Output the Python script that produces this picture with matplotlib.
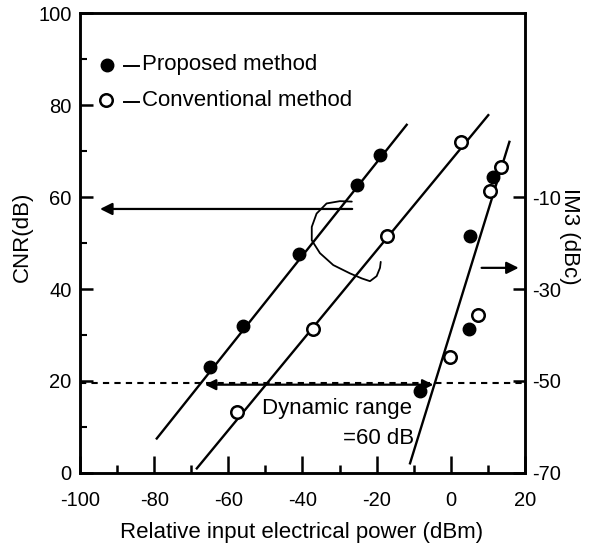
import matplotlib
matplotlib.use("Agg")
import matplotlib.pyplot as plt
from matplotlib.ticker import MultipleLocator, FixedLocator

plt.rcParams['font.family'] = ['Liberation Sans', 'DejaVu Sans']
plt.rcParams['axes.unicode_minus'] = False

# CNR measurements (left axis, dB) vs relative input power (dBm)
prop_cnr_x = [-65.0, -56.0, -41.0, -25.4, -19.1]
prop_cnr_y = [23.0, 32.0, 47.6, 62.6, 69.1]
conv_cnr_x = [-57.7, -37.3, -17.2, 2.7]
conv_cnr_y = [13.3, 31.4, 51.5, 71.9]

# fitted CNR lines (end points)
prop_fit_x = [-79.3, -11.9]
prop_fit_y = [7.5, 75.7]
conv_fit_x = [-68.5, 10.1]
conv_fit_y = [1.0, 77.8]

# IM3 measurements (right axis, dBc)
prop_im3_x = [-8.3, 5.0, 5.2, 11.3]
prop_im3_y = [-52.2, -38.8, -18.5, -5.6]
conv_im3_x = [-0.2, 7.3, 10.6, 13.5]
conv_im3_y = [-44.8, -35.7, -8.8, -3.4]

# fitted IM3 line (end points)
im3_fit_x = [-11.0, 15.8]
im3_fit_y = [-67.9, 2.0]

# hand-drawn loop tying the two CNR lines to the left arrow
loop_x = [-26.7, -29.9, -33.5, -36.2, -37.5, -37.5, -35.3, -31.7, -27.2,
          -24.0, -21.8, -20.0, -19.1, -18.9]
loop_y = [59.0, 59.1, 58.6, 56.4, 53.5, 50.6, 47.8, 45.2, 43.4,
          42.3, 41.7, 42.8, 44.6, 45.9]

x_ticks = [-100, -80, -60, -40, -20, 0, 20]
y_ticks = [0, 20, 40, 60, 80, 100]
im3_ticks = [-70, -50, -30, -10]

threshold_cnr = 19.5

fig = plt.figure(figsize=(5.90, 5.47), dpi=100)
ax = fig.add_axes([0.1356, 0.1353, 0.7542, 0.8409])
ax2 = ax.twinx()

ax.set_xlim(-100, 20)
ax.set_ylim(0, 100)
ax2.set_ylim(-70, 30)

lw = 1.7
ink = 'black'
tick_fs = 14.5
text_fs = 16

for a in (ax, ax2):
    for s in a.spines.values():
        s.set_linewidth(1.8)

ax.xaxis.set_major_locator(FixedLocator(x_ticks))
ax.xaxis.set_minor_locator(MultipleLocator(10))
ax.yaxis.set_major_locator(FixedLocator(y_ticks))
ax.yaxis.set_minor_locator(MultipleLocator(10))
ax.tick_params(axis='x', which='major', direction='in', length=12, width=1.8,
               labelsize=tick_fs, pad=13, top=False)
ax.tick_params(axis='x', which='minor', direction='in', length=6, width=1.8, top=False)
ax.tick_params(axis='y', which='major', direction='in', length=9, width=1.8,
               labelsize=tick_fs, pad=6, right=False)
ax.tick_params(axis='y', which='minor', direction='in', length=5, width=1.5, right=False)

ax2.yaxis.set_major_locator(FixedLocator(im3_ticks))
ax2.tick_params(axis='y', which='major', direction='in', length=9, width=1.8,
                labelsize=tick_fs, pad=5)

ax.set_xlabel('Relative input electrical power (dBm)', fontsize=text_fs)
ax.xaxis.set_label_coords(0.497, -0.130)
ax.xaxis.label.set_va('center')
ax.set_ylabel('CNR(dB)', fontsize=text_fs)
ax.yaxis.set_label_coords(-0.13, 0.513)
ax.yaxis.label.set_va('center')
ax2.set_ylabel('IM3 (dBc)', fontsize=text_fs, rotation=-90)
ax2.yaxis.set_label_coords(1.101, 0.515)
ax2.yaxis.label.set_va('center')
ax2.yaxis.label.set_ha('center')

# fitted lines
ax.plot(prop_fit_x, prop_fit_y, color=ink, lw=lw, zorder=2)
ax.plot(conv_fit_x, conv_fit_y, color=ink, lw=lw, zorder=2)
ax2.plot(im3_fit_x, im3_fit_y, color=ink, lw=lw, zorder=2)

# measured points
ms = 9
filled = dict(ls='none', marker='o', ms=ms, mfc=ink, mec=ink, zorder=4)
hollow = dict(ls='none', marker='o', ms=ms, mfc='white', mec=ink, mew=1.8, zorder=4)
ax.plot(prop_cnr_x, prop_cnr_y, **filled)
ax.plot(conv_cnr_x, conv_cnr_y, **hollow)
ax2.plot(prop_im3_x, prop_im3_y, **filled)
ax2.plot(conv_im3_x, conv_im3_y, **hollow)

# threshold line and dynamic range arrow
ax.axhline(threshold_cnr, color=ink, lw=1.5, ls=(0, (3, 2.5)), zorder=1)
ax.annotate('', xy=(-66.3, threshold_cnr - 0.3), xytext=(-4.7, threshold_cnr - 0.3),
            arrowprops=dict(arrowstyle='<|-|>', color=ink, lw=1.6,
                            mutation_scale=16, shrinkA=0, shrinkB=0), zorder=3)
ax.text(-10.5, 14.1, 'Dynamic range', fontsize=text_fs, ha='right', va='center')
ax.text(-9.8, 7.6, '=60 dB', fontsize=text_fs, ha='right', va='center')

# axis pointer arrows
ax.annotate('', xy=(-94.6, 57.4), xytext=(-26.6, 57.4),
            arrowprops=dict(arrowstyle='-|>', color=ink, lw=1.6,
                            mutation_scale=18, shrinkA=0, shrinkB=0))
ax.annotate('', xy=(18.3, 44.6), xytext=(8.3, 44.6),
            arrowprops=dict(arrowstyle='-|>', color=ink, lw=1.6,
                            mutation_scale=18, shrinkA=0, shrinkB=0))
ax.plot(loop_x, loop_y, color=ink, lw=1.3, zorder=3, solid_capstyle='round')

# key
ax.plot([-92.6], [88.7], **filled)
ax.plot([-92.9], [81.0], **hollow)
ax.plot([-88.2, -84.0], [88.4, 88.4], color=ink, lw=1.4)
ax.plot([-88.2, -84.0], [80.7, 80.7], color=ink, lw=1.4)
ax.text(-83.2, 88.7, 'Proposed method', fontsize=text_fs, ha='left', va='center')
ax.text(-83.2, 81.0, 'Conventional method', fontsize=text_fs, ha='left', va='center')

ax.set_zorder(ax2.get_zorder() + 1)
ax.patch.set_visible(False)

fig.savefig('out.png', dpi=100)
